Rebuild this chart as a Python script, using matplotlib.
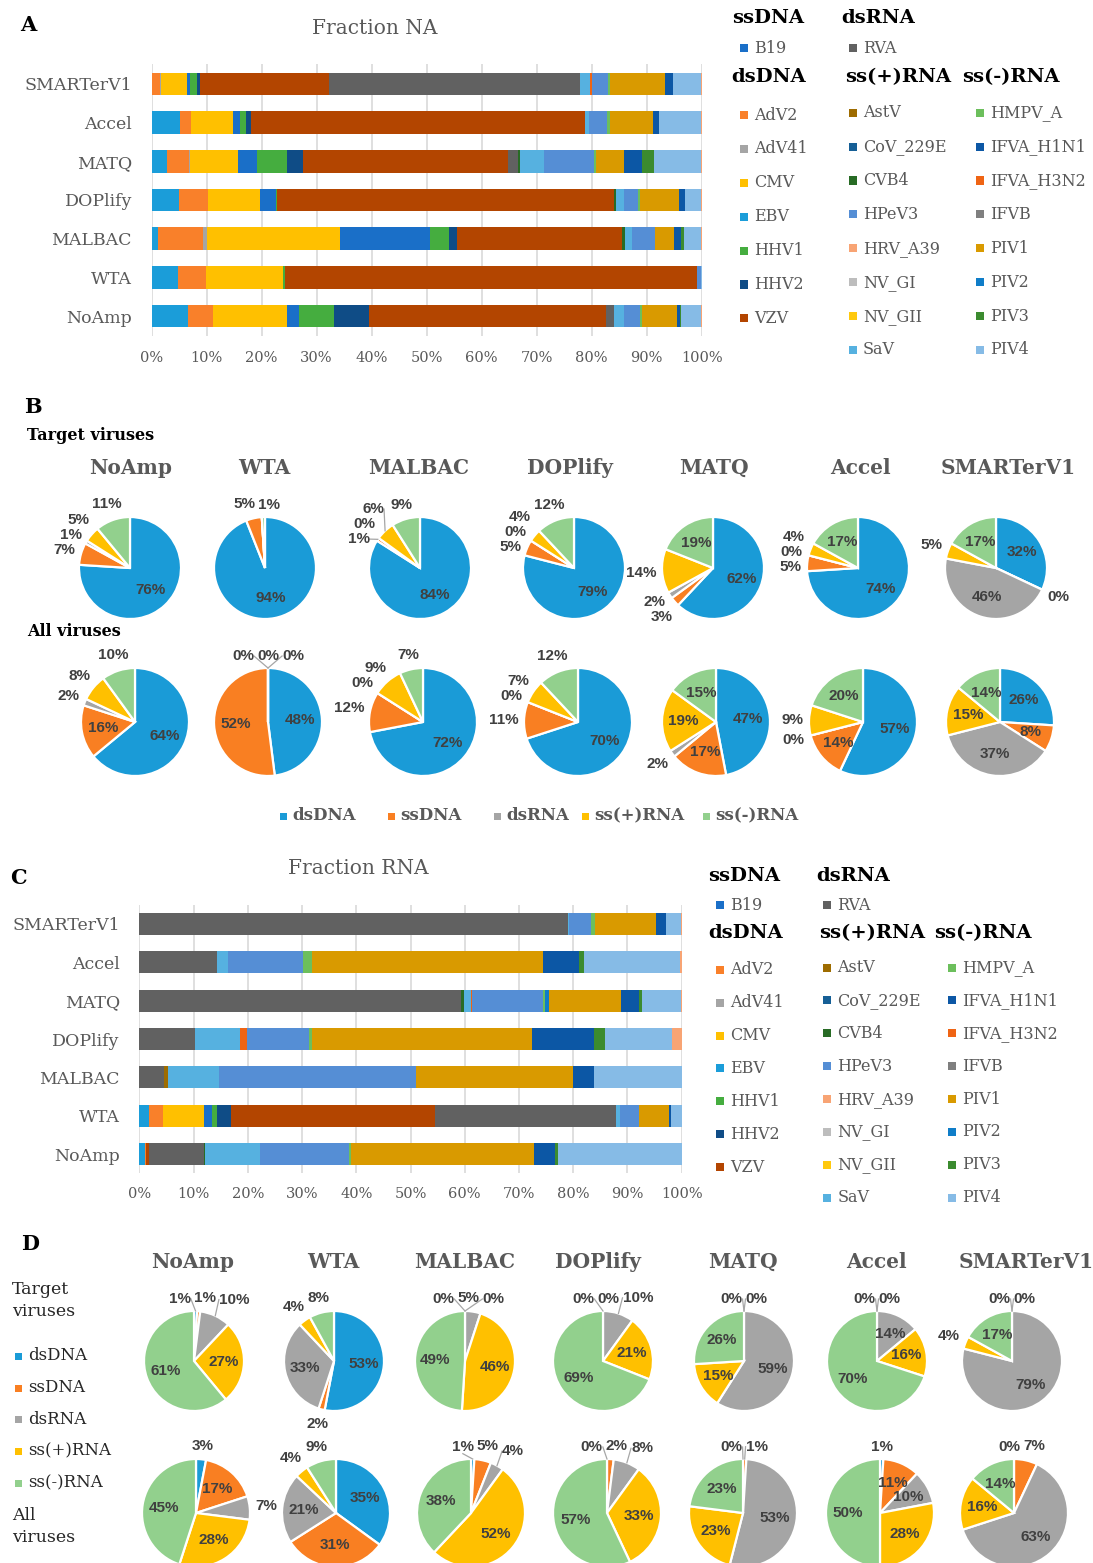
import numpy as np
import matplotlib
matplotlib.use('Agg')
import matplotlib.pyplot as plt
import matplotlib.patches as patches

W, H = 1093, 1563
SERIF = 'DejaVu Serif'
SANS = 'Liberation Sans'
GREY = '#595959'

# ---------------- stacked bars (percent of viral reads) ----------------
platforms = ['SMARTerV1', 'Accel', 'MATQ', 'DOPlify', 'MALBAC', 'WTA', 'NoAmp']
series = ['EBV', 'AdV2', 'AdV41', 'CMV', 'B19', 'HHV1', 'HHV2', 'VZV', 'RVA', 'AstV',
          'CVB4', 'SaV', 'IFVA_H3N2', 'HPeV3', 'HMPV_A', 'PIV2', 'PIV1', 'IFVA_H1N1',
          'PIV3', 'PIV4', 'HRV_A39']

#              EBV  AdV2 AdV41 CMV  B19  HHV1 HHV2 VZV   RVA   AstV CVB4 SaV  H3N2 HPeV3 HMPV PIV2  PIV1  H1N1 PIV3 PIV4 HRV
na_SMARTerV1 = [0.0, 1.5, 0.2, 4.8, 0.5, 1.3, 0.5, 23.5, 45.6, 0.0, 0.0, 1.8, 0.3, 3.0, 0.25, 0.15, 10.0, 1.4, 0.0, 5.0, 0.2]
na_Accel = [5.2, 1.9, 0.0, 7.7, 1.3, 1.0, 1.0, 60.7, 0.0, 0.0, 0.0, 0.7, 0.0, 3.3, 0.5, 0.0, 7.9, 1.0, 0.1, 7.6, 0.1]
na_MATQ = [2.9, 3.9, 0.2, 8.8, 3.3, 5.6, 2.9, 37.2, 1.9, 0.0, 0.2, 4.5, 0.0, 9.1, 0.2, 0.0, 5.2, 3.2, 2.3, 8.5, 0.1]
na_DOPlify = [5.0, 5.3, 0.0, 9.4, 2.9, 0.3, 0.0, 61.2, 0.0, 0.0, 0.3, 1.4, 0.1, 2.5, 0.4, 0.0, 7.1, 1.1, 0.0, 2.9, 0.1]
na_MALBAC = [1.1, 8.3, 0.6, 24.2, 16.4, 3.4, 1.5, 30.1, 0.0, 0.0, 0.4, 1.4, 0.0, 4.1, 0.0, 0.0, 3.5, 1.3, 0.5, 3.1, 0.1]
na_WTA = [4.8, 5.1, 0.0, 14.0, 0.0, 0.4, 0.0, 74.9, 0.0, 0.0, 0.0, 0.0, 0.0, 0.7, 0.0, 0.0, 0.0, 0.0, 0.0, 0.1, 0.0]
na_NoAmp = [6.6, 4.6, 0.0, 13.4, 2.2, 6.3, 6.4, 43.1, 1.4, 0.0, 0.0, 1.9, 0.0, 2.8, 0.5, 0.0, 6.4, 0.5, 0.2, 3.6, 0.1]

rna_SMARTerV1 = [0, 0, 0, 0, 0, 0, 0, 0, 79.0, 0, 0, 0.3, 0, 4.0, 0.8, 0, 11.2, 1.8, 0, 2.8, 0.1]
rna_Accel = [0, 0, 0, 0, 0, 0, 0, 0, 14.3, 0, 0, 2.0, 0, 13.8, 1.8, 0, 42.5, 6.7, 0.9, 17.6, 0.4]
rna_MATQ = [0, 0, 0, 0, 0, 0, 0, 0, 59.4, 0, 0.4, 1.3, 0.3, 13.1, 0.3, 0.8, 13.2, 3.3, 0.6, 7.2, 0.1]
rna_DOPlify = [0, 0, 0, 0, 0, 0, 0, 0, 10.3, 0, 0, 8.3, 1.2, 11.5, 0.6, 0, 40.5, 11.5, 2.0, 12.3, 1.8]
rna_MALBAC = [0, 0, 0, 0, 0, 0, 0, 0, 4.6, 0.6, 0, 9.5, 0, 36.3, 0, 0, 28.9, 4.0, 0, 16.1, 0]
rna_WTA = [1.85, 2.45, 0, 7.6, 1.5, 1.0, 2.5, 37.7, 33.2, 0, 0, 0.9, 0, 3.5, 0, 0, 5.5, 0.3, 0, 2.0, 0]
rna_NoAmp = [1.05, 0.2, 0, 0, 0, 0, 0, 0.6, 10.1, 0, 0.25, 10.1, 0, 16.4, 0.3, 0, 33.7, 4.0, 0.5, 22.8, 0]

grp_dsDNA = ['AdV2', 'AdV41', 'CMV', 'EBV', 'HHV1', 'HHV2', 'VZV']
grp_sspos = ['AstV', 'CoV_229E', 'CVB4', 'HPeV3', 'HRV_A39', 'NV_GI', 'NV_GII', 'SaV']
grp_ssneg = ['HMPV_A', 'IFVA_H1N1', 'IFVA_H3N2', 'IFVB', 'PIV1', 'PIV2', 'PIV3', 'PIV4']

virus_colors = {
    'EBV': '#1B9DD9', 'AdV2': '#F9802A', 'AdV41': '#A5A5A5', 'CMV': '#FFC000', 'B19': '#1A6FC8',
    'HHV1': '#45AD3F', 'HHV2': '#0F4C86', 'VZV': '#B34500', 'RVA': '#616161', 'AstV': '#9E6C00',
    'CoV_229E': '#165F96', 'CVB4': '#286B25', 'HPeV3': '#558ED5', 'HRV_A39': '#F8A474',
    'NV_GI': '#BDBDBD', 'NV_GII': '#FFC90E', 'SaV': '#56B1E0', 'HMPV_A': '#6CBF5C',
    'IFVA_H1N1': '#0C57A5', 'IFVA_H3N2': '#EF6414', 'IFVB': '#7F7F7F', 'PIV1': '#D99A00',
    'PIV2': '#0F7DC8', 'PIV3': '#3B8B2F', 'PIV4': '#86BBE6'}

# ---------------- pies (percent per nucleic acid type) ----------------
nan = float('nan')
pie_methods = ['NoAmp', 'WTA', 'MALBAC', 'DOPlify', 'MATQ', 'Accel', 'SMARTerV1']
nat_types = ['dsDNA', 'ssDNA', 'dsRNA', 'ss(+)RNA', 'ss(-)RNA']
nat_colors = ['#1A9BD7', '#F97F22', '#A5A5A5', '#FFC000', '#92D08D']

na_target = [[76, 7, 1, 5, 11], [94, 5, nan, nan, 1], [84, 1, 0, 6, 9], [79, 5, 0, 4, 12],
             [62, 3, 2, 14, 19], [74, 5, 0, 4, 17], [32, 0, 46, 5, 17]]
na_all = [[64, 16, 2, 8, 10], [48, 52, 0, 0, 0], [72, 12, 0, 9, 7], [70, 11, 0, 7, 12],
          [47, 17, 2, 19, 15], [57, 14, 0, 9, 20], [26, 8, 37, 15, 14]]
rna_target = [[1, 1, 10, 27, 61], [53, 2, 33, 4, 8], [0, 0, 5, 46, 49], [0, 0, 10, 21, 69],
              [0, 0, 59, 15, 26], [0, 0, 14, 16, 70], [0, 0, 79, 4, 17]]
rna_all = [[3, 17, 7, 28, 45], [35, 31, 21, 4, 9], [1, 5, 4, 52, 38], [0, 2, 8, 33, 57],
           [0, 1, 53, 23, 23], [1, 11, 10, 28, 50], [0, 7, 63, 16, 14]]

fig = plt.figure(figsize=(W / 100, H / 100), dpi=100)


def fx(x):
    return x / W


def fy(y):
    return 1 - y / H


def txt(x, y, s, size, ha='left', va='center', color=GREY, weight='normal', family=SERIF):
    fig.text(fx(x), fy(y), s, fontsize=size, ha=ha, va=va, color=color,
             fontweight=weight, family=family)


def square(x, y, color, s=8):
    fig.add_artist(patches.Rectangle((fx(x), fy(y + s / 2)), s / W, s / H,
                                     transform=fig.transFigure, facecolor=color,
                                     edgecolor='none'))


def draw_bars(rows, left, right, ytop, ybot, pad_x, pad_y):
    ax = fig.add_axes([fx(left), fy(ybot), (right - left) / W, (ybot - ytop) / H])
    data = np.array(rows, dtype=float)
    ypos = np.arange(len(platforms))
    start = np.zeros(len(platforms))
    for j, name in enumerate(series):
        ax.barh(ypos, data[:, j], left=start, height=0.58,
                color=virus_colors[name], linewidth=0)
        start += data[:, j]
    ax.set_xlim(0, 100)
    ax.set_ylim(len(platforms) - 0.5, -0.5)
    ax.set_xticks(np.arange(0, 101, 10))
    ax.set_xticklabels(['%d%%' % t for t in range(0, 101, 10)],
                       family=SERIF, fontsize=10.5, color=GREY)
    ax.set_yticks(ypos)
    ax.set_yticklabels(platforms, family=SERIF, fontsize=12.5, color=GREY)
    ax.grid(axis='x', color='#D9D9D9', lw=1.2)
    ax.set_axisbelow(True)
    for sp in ax.spines.values():
        sp.set_visible(False)
    ax.tick_params(axis='x', length=0, pad=pad_x)
    ax.tick_params(axis='y', length=0, pad=pad_y)


def item(pos, name):
    x, y = pos
    square(x, y, virus_colors[name])
    txt(x + 14, y, name, 11.5, color=GREY)


def virus_legend(hx, hy, sx, sy):
    def P(dx, dy):
        return hx + dx * sx, hy + dy * sy
    for (dx, dy), s in [((0, 0), 'ssDNA'), ((110, 0), 'dsRNA'), ((0, 58.4), 'dsDNA'),
                        ((113.3, 58.4), 'ss(+)RNA'), ((230, 58.4), 'ss(-)RNA')]:
        x, y = P(dx, dy)
        txt(x, y, s, 14, weight='bold', color='black')
    item(P(8, 30), 'B19')
    item(P(117, 30), 'RVA')
    for k, n in enumerate(grp_dsDNA):
        item(P(8, 96.7 + 33.9 * k), n)
    for k, n in enumerate(grp_sspos):
        item(P(117, 94.4 + 33.9 * k), n)
    for k, n in enumerate(grp_ssneg):
        item(P(244, 94.4 + 33.9 * k), n)


LH = 14
lab_kw = dict(ha='center', va='center', fontsize=11, fontweight='bold',
              color='#404040', family=SANS)


def lab_w(s):
    return 8.5 * (len(s) - 1) + 13.6


def draw_pie(cx, cy, r, vals, force_in=(), force_out=()):
    ax = fig.add_axes([fx(cx - r), fy(cy + r), 2 * r / W, 2 * r / H])
    v = np.nan_to_num(np.array(vals, dtype=float))
    ax.pie(v, colors=nat_colors, startangle=90, counterclock=False,
           wedgeprops=dict(edgecolor='white', linewidth=1.6))
    ax.set_xlim(-1, 1)
    ax.set_ylim(-1, 1)
    tot = v.sum()
    a0 = 90.0
    outs = []
    for i, val in enumerate(vals):
        span = 360.0 * v[i] / tot
        mid = np.radians(a0 - span / 2)
        a0 -= span
        if np.isnan(val):
            continue
        s = '%d%%' % val
        c, sn = np.cos(mid), np.sin(mid)
        inside = (val >= 14 or i in force_in) and i not in force_out
        if inside:
            ax.text(0.6 * c, 0.6 * sn, s, **lab_kw)
        else:
            w = lab_w(s)
            d = r + 5 + w / 2 * abs(c) + LH / 2 * abs(sn)
            outs.append({'x': d * c, 'y': d * sn, 'x0': d * c, 'y0': d * sn,
                         'w': w, 'm': mid, 's': s})
    # spread colliding outside labels
    for it in range(300):
        moved = False
        for a in range(len(outs)):
            for b in range(a + 1, len(outs)):
                A, B = outs[a], outs[b]
                dx = B['x'] - A['x']
                dy = B['y'] - A['y']
                ox = (A['w'] + B['w']) / 2 + 3 - abs(dx)
                oy = LH + 1 - abs(dy)
                if ox > 0 and oy > 0:
                    m = (A['m'] + B['m']) / 2
                    if abs(np.sin(m)) > 0.8:
                        sg = np.sign(dx) if abs(dx) > 0.5 else np.sign(np.sin(m))
                        A['x'] -= sg * ox / 2
                        B['x'] += sg * ox / 2
                    else:
                        sg = np.sign(dy) if abs(dy) > 0.5 else np.sign(-np.cos(m))
                        A['y'] -= sg * oy / 2
                        B['y'] += sg * oy / 2
                    moved = True
        for L in outs:
            ang = np.arctan2(L['y'], L['x'])
            need = r + 4 + L['w'] / 2 * abs(np.cos(ang)) + LH / 2 * abs(np.sin(ang))
            dist = np.hypot(L['x'], L['y'])
            if dist < need - 0.5:
                L['x'] *= need / dist
                L['y'] *= need / dist
                moved = True
        if not moved:
            break
    for L in outs:
        x, y = L['x'], L['y']
        if np.hypot(x - L['x0'], y - L['y0']) > 8:
            ex, ey = r * np.cos(L['m']), r * np.sin(L['m'])
            if abs(x) > L['w'] / 2:
                tx, ty = x - np.sign(x) * L['w'] / 2, y
            else:
                tx, ty = x, y - np.sign(y) * LH / 2
            ax.plot([ex / r, tx / r], [ey / r, ty / r], color='#A6A6A6', lw=0.9,
                    clip_on=False)
        ax.text(x / r, y / r, L['s'], **lab_kw)


# ---------------- panel A ----------------
txt(28, 25, 'A', 15, ha='center', weight='bold', color='black')
txt(375, 28, 'Fraction NA', 14.5, ha='center')
draw_bars([na_SMARTerV1, na_Accel, na_MATQ, na_DOPlify, na_MALBAC, na_WTA, na_NoAmp],
          151.5, 701.7, 64.5, 335.5, 11, 14)
virus_legend(731.7, 18.3, 1.0, 1.0)

# ---------------- panel B ----------------
txt(33, 407, 'B', 15, ha='center', weight='bold', color='black')
txt(27, 435, 'Target viruses', 11.5, weight='bold', color='black')
txt(27, 632, 'All viruses', 11.5, weight='bold', color='black')
B_title_x = [131, 264, 419, 570, 714, 860, 1008]
B_top_cx = [130, 265, 420, 574, 713, 858, 996]
B_bot_cx = [135, 268, 423, 578, 716, 863, 1000]
for k, name in enumerate(pie_methods):
    txt(B_title_x[k], 468, name, 14.5, ha='center', weight='bold')
    draw_pie(B_top_cx[k], 568, 51, na_target[k],
             force_out=(3,) if name == 'MATQ' else ())
    draw_pie(B_bot_cx[k], 722, 54, na_all[k],
             force_in=(1,) if name == 'SMARTerV1' else ())
B_leg_x = [280, 388, 494, 582, 703]
for k, n in enumerate(nat_types):
    square(B_leg_x[k], 816, nat_colors[k], s=7)
    txt(B_leg_x[k] + 12, 816, n, 12, weight='bold')

# ---------------- panel C ----------------
txt(18, 878, 'C', 15, ha='center', weight='bold', color='black')
txt(358, 868, 'Fraction RNA', 14.5, ha='center')
draw_bars([rna_SMARTerV1, rna_Accel, rna_MATQ, rna_DOPlify, rna_MALBAC, rna_WTA, rna_NoAmp],
          139.3, 681.7, 904.8, 1173.2, 10, 14)
virus_legend(708, 876, 0.985, 0.97)

# ---------------- panel D ----------------
txt(30, 1244, 'D', 15, ha='center', weight='bold', color='black')
txt(12, 1290, 'Target', 12.5, color='#262626')
txt(12, 1312, 'viruses', 12.5, color='#262626')
txt(12, 1515, 'All', 12.5, color='#262626')
txt(12, 1537, 'viruses', 12.5, color='#262626')
D_leg_y = [1356, 1388, 1419, 1451, 1483]
for k, n in enumerate(nat_types):
    square(15, D_leg_y[k], nat_colors[k], s=7)
    txt(28, D_leg_y[k], n, 12, color='#262626')
D_title_x = [193, 333, 465, 598, 743, 876, 1026]
D_top_cx = [194, 334, 465, 603, 744, 877, 1012]
D_bot_cx = [196, 336, 471, 607, 743, 880, 1014]
for k, name in enumerate(pie_methods):
    txt(D_title_x[k], 1262, name, 14.5, ha='center', weight='bold')
    draw_pie(D_top_cx[k], 1361, 50, rna_target[k])
    draw_pie(D_bot_cx[k], 1513, 54, rna_all[k],
             force_in=(1, 2) if name == 'Accel' else ())

fig.savefig('out.png', dpi=100)
